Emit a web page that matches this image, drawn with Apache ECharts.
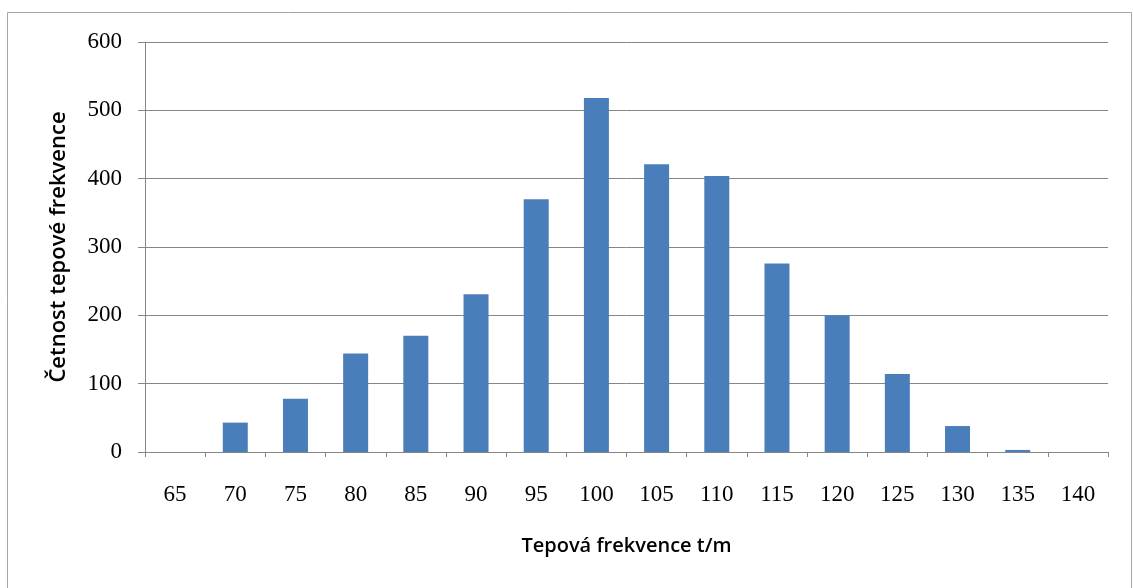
<!DOCTYPE html>
<html>
<head>
<meta charset="utf-8">
<script src="https://cdn.jsdelivr.net/npm/echarts@6/dist/echarts.min.js"></script>
<style>
  html, body { margin: 0; padding: 0; background: #fff; }
  #chart { width: 1133px; height: 588px; }
</style>
</head>
<body>
<div id="chart"></div>
<script>
// Heart-rate classes (beats per minute) and how often each occurred
const heartRates = ['65', '70', '75', '80', '85', '90', '95', '100', '105', '110', '115', '120', '125', '130', '135', '140'];
const counts = [0, 43, 78, 144, 170, 231, 370, 518, 421, 404, 276, 200, 114, 38, 3, 0];
const countTicks = { min: 0, max: 600, step: 100 };

const chart = echarts.init(document.getElementById('chart'), null, { renderer: 'canvas' });

const gray = '#868686';
const labelFont = 'Liberation Serif';
const titleFont = 'Open Sans';

chart.setOption({
  backgroundColor: '#ffffff',
  animation: false,
  graphic: [{
    type: 'rect',
    shape: { x: 7.5, y: 12.5, width: 1124, height: 600 },
    style: { fill: 'none', stroke: '#a6a6a6', lineWidth: 1 },
    silent: true
  }],
  grid: { left: 145, right: 25, top: 42, bottom: 136 },
  xAxis: {
    type: 'category',
    data: heartRates,
    boundaryGap: true,
    name: 'Tepová frekvence t/m',
    nameLocation: 'middle',
    nameGap: 84,
    nameTextStyle: { fontFamily: titleFont, fontWeight: 600, fontSize: 20, color: '#000' },
    axisLine: { lineStyle: { color: gray, width: 1 } },
    axisTick: { show: true, length: 5, alignWithLabel: false, lineStyle: { color: gray } },
    axisLabel: { fontFamily: labelFont, fontSize: 23, color: '#000', margin: 31, interval: 0 },
    splitLine: { show: false }
  },
  yAxis: {
    type: 'value',
    min: countTicks.min,
    max: countTicks.max,
    interval: countTicks.step,
    name: 'Četnost tepové frekvence',
    nameLocation: 'middle',
    nameGap: 75,
    nameRotate: 90,
    nameTextStyle: { fontFamily: titleFont, fontWeight: 600, fontSize: 22, color: '#000' },
    axisLine: { show: true, lineStyle: { color: gray, width: 1 } },
    axisTick: { show: true, length: 7, lineStyle: { color: gray } },
    axisLabel: { fontFamily: labelFont, fontSize: 23, color: '#000', margin: 23 },
    splitLine: { show: true, lineStyle: { color: gray, width: 1 } }
  },
  series: [{
    type: 'bar',
    data: counts,
    barWidth: 25,
    itemStyle: { color: '#4a7ebb' }
  }]
});
</script>
</body>
</html>
